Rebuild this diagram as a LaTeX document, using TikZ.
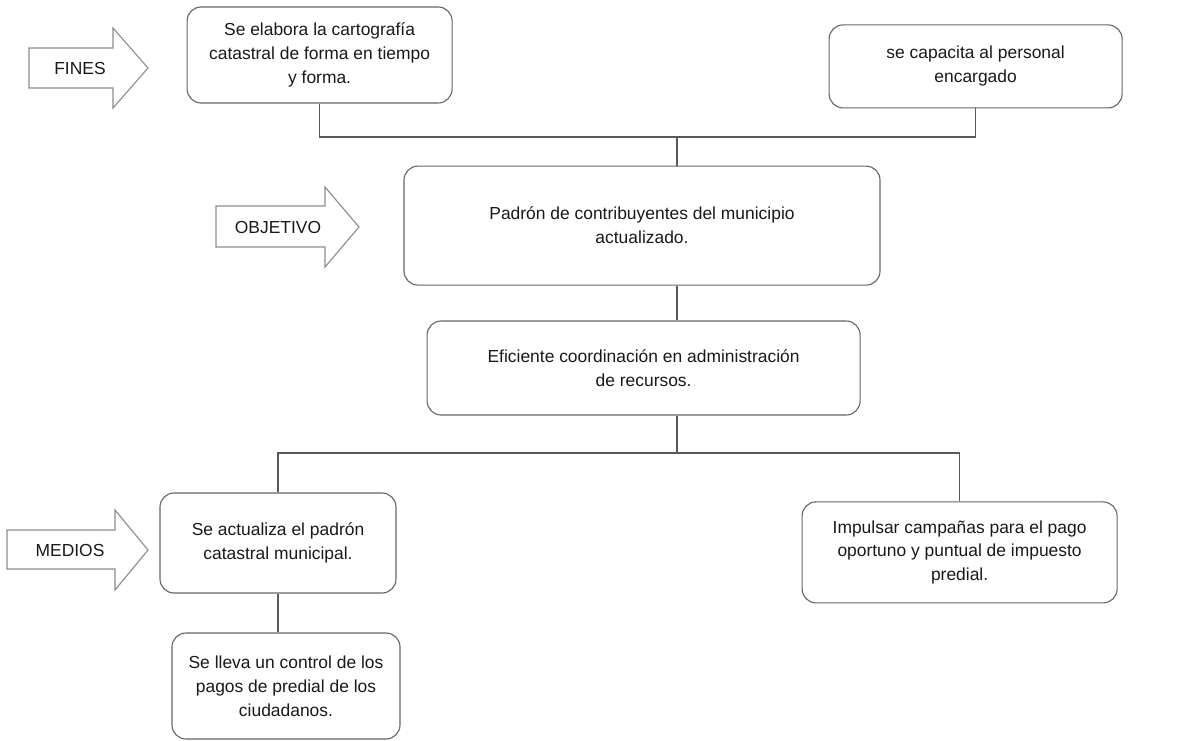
\documentclass[tikz,border=0pt]{standalone}
\usepackage{fontspec}
\setmainfont{Liberation Sans}
\tikzset{
    caja/.style={draw=black!60, line width=0.8pt, rounded corners=0.35cm,
        align=center, text=black!90, inner sep=2pt},
    linea/.style={draw=black!65, line width=0.9pt},
    flecha/.style={draw=black!45, line width=0.8pt, line join=miter}
}
\begin{document}
\begin{tikzpicture}[font=\fontsize{12.4}{17}\selectfont]
        \useasboundingbox (0,0) rectangle (29.625,-18.5);
        %% fines
        \node[caja, minimum width=6.625cm, minimum height=2.4cm] (fin1) at (7.99,-1.375)
            {Se elabora la cartografía\\catastral de forma en tiempo\\y forma.};
        \node[caja, minimum width=7.325cm, minimum height=2.075cm] (fin2) at (24.39,-1.66)
            {se capacita al personal\\encargado};
        %% objetivo
        \node[caja, minimum width=11.9cm, minimum height=2.975cm] (objetivo) at (16.05,-5.64)
            {Padrón de contribuyentes del municipio\\actualizado.};
        \node[caja, minimum width=10.825cm, minimum height=2.35cm] (coord) at (16.09,-9.2)
            {Eficiente coordinación en administración\\de recursos.};
        %% medios
        \node[caja, minimum width=5.9cm, minimum height=2.5cm] (medio1) at (6.95,-13.575)
            {Se actualiza el padrón\\catastral municipal.};
        \node[caja, minimum width=7.875cm, minimum height=2.525cm] (medio2) at (23.99,-13.81)
            {Impulsar campañas para el pago\\oportuno y puntual de impuesto\\predial.};
        \node[caja, minimum width=5.7cm, minimum height=2.65cm] (medio3) at (7.15,-17.15)
            {Se lleva un control de los\\pagos de predial de los\\ciudadanos.};
        %% conectores
        \coordinate (arriba) at (16.925,-3.425);
        \coordinate (abajo) at (16.925,-11.325);
        \draw[linea] (fin1.south) |- (arriba) -| (fin2.south);
        \draw[linea] (arriba) -- (arriba |- objetivo.north);
        \draw[linea] (arriba |- objetivo.south) -- (arriba |- coord.north);
        \draw[linea] (arriba |- coord.south) -- (abajo);
        \draw[linea] (medio1.north) |- (abajo) -| (medio2.north);
        \draw[linea] (medio1.south) -- (medio1.south |- medio3.north);
        %% flechas
        \draw[flecha] (0.725,-1.2) -- (2.825,-1.2) -- (2.825,-0.7) -- (3.7,-1.7)
            -- (2.825,-2.7) -- (2.825,-2.2) -- (0.725,-2.2) -- cycle;
        \node[text=black!90] (lblfines) at (2.0,-1.7) {FINES};
        \draw[flecha] (5.4,-5.15) -- (8.125,-5.15) -- (8.125,-4.675) -- (8.975,-5.675)
            -- (8.125,-6.675) -- (8.125,-6.175) -- (5.4,-6.175) -- cycle;
        \node[text=black!90] (lblobjetivo) at (6.95,-5.675) {OBJETIVO};
        \draw[flecha] (0.175,-13.25) -- (2.875,-13.25) -- (2.875,-12.75) -- (3.7,-13.75)
            -- (2.875,-14.75) -- (2.875,-14.225) -- (0.175,-14.225) -- cycle;
        \node[text=black!90] (lblmedios) at (1.75,-13.75) {MEDIOS};
    \end{tikzpicture}
\end{document}
